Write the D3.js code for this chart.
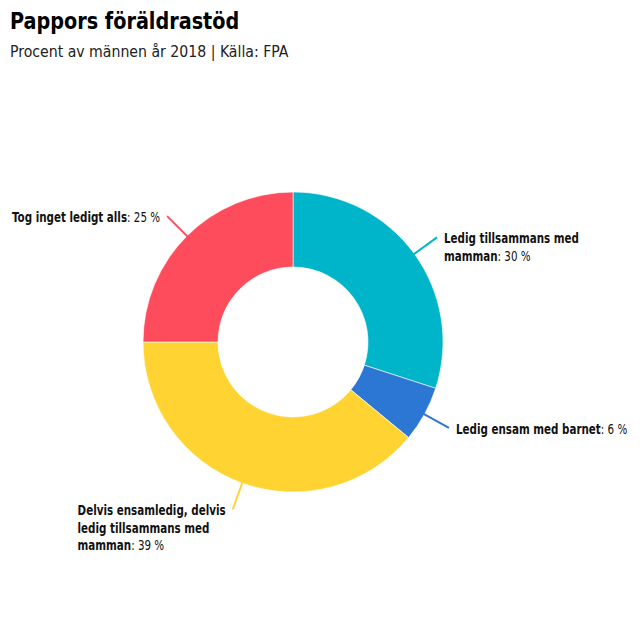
<!DOCTYPE html>
<html>
<head>
<meta charset="utf-8">
<script src="https://cdn.jsdelivr.net/npm/d3@7"></script>
<style>
  body { margin: 0; background: #fff; }
  svg { display: block; }
  .title { font-family: "DejaVu Sans", sans-serif; font-stretch: condensed; font-weight: bold; font-size: 23px; fill: #000; }
  .subtitle { font-family: "DejaVu Sans", sans-serif; font-stretch: condensed; font-size: 16px; fill: #222; }
  .label { font-family: "DejaVu Sans", sans-serif; font-stretch: condensed; font-size: 14px; fill: #111; }
  .label .name { font-weight: bold; }
</style>
</head>
<body>
<svg id="chart" width="640" height="640"></svg>
<script>
// data
const categories = [
  'Ledig tillsammans med mamman',
  'Ledig ensam med barnet',
  'Delvis ensamledig, delvis ledig tillsammans med mamman',
  'Tog inget ledigt alls',
];
const values = [30, 6, 39, 25];
const colors = ['#00b4c9', '#2b77d3', '#ffd432', '#ff4c5d'];
// how each label wraps
const labelLines = [
  ['Ledig tillsammans med', 'mamman'],
  ['Ledig ensam med barnet'],
  ['Delvis ensamledig, delvis', 'ledig tillsammans med', 'mamman'],
  ['Tog inget ledigt alls'],
];

const cx = 293;
const cy = 342;
const outerR = 150;
const innerR = 75;
const lineR = 178;
const lineH = 17.5;
const squeeze = 0.82; // narrow the labels towards the reference's condensed face

const svg = d3.select('#chart');

svg.append('text')
  .attr('class', 'title')
  .attr('transform', 'translate(10,29) scale(0.93,1)')
  .text('Pappors föräldrastöd');

svg.append('text')
  .attr('class', 'subtitle')
  .attr('transform', 'translate(10,57) scale(0.98,1)')
  .text('Procent av männen år 2018 | Källa: FPA');

const data = categories.map((c, i) => ({ name: c, value: values[i], color: colors[i], lines: labelLines[i] }));

const pie = d3.pie()
  .value(d => d.value)
  .sort(null);

const arc = d3.arc()
  .innerRadius(innerR)
  .outerRadius(outerR);

const arcs = pie(data);

const g = svg.append('g')
  .attr('transform', `translate(${cx},${cy})`);

g.selectAll('path.slice')
  .data(arcs)
  .enter()
  .append('path')
  .attr('class', 'slice')
  .attr('d', arc)
  .attr('fill', d => d.data.color)
  .attr('stroke', '#fff')
  .attr('stroke-width', 0.6);

function polar(angle, r) {
  return [r * Math.sin(angle), -r * Math.cos(angle)];
}

arcs.forEach((a) => {
  const mid = (a.startAngle + a.endAngle) / 2;
  const p0 = polar(mid, outerR - 2);
  const p1 = polar(mid, lineR);
  g.append('line')
    .attr('x1', p0[0]).attr('y1', p0[1])
    .attr('x2', p1[0]).attr('y2', p1[1])
    .attr('stroke', a.data.color)
    .attr('stroke-width', 2);

  const right = Math.sin(mid) >= 0;
  const text = g.append('text')
    .attr('class', 'label');
  const lines = a.data.lines;
  lines.forEach((line, i) => {
    const ts = text.append('tspan')
      .attr('x', 0)
      .attr('dy', i === 0 ? 0 : lineH);
    ts.append('tspan').attr('class', 'name').text(line);
    if (i === lines.length - 1) {
      ts.append('tspan').text(`: ${a.data.value} %`);
    }
  });
  const w = text.node().getBBox().width * squeeze;
  const tx = right ? p1[0] + 7 : p1[0] - 7 - w;
  const ty = p1[1] + 6;
  text.attr('transform', `translate(${tx},${ty}) scale(${squeeze},1)`);
});
</script>
</body>
</html>
